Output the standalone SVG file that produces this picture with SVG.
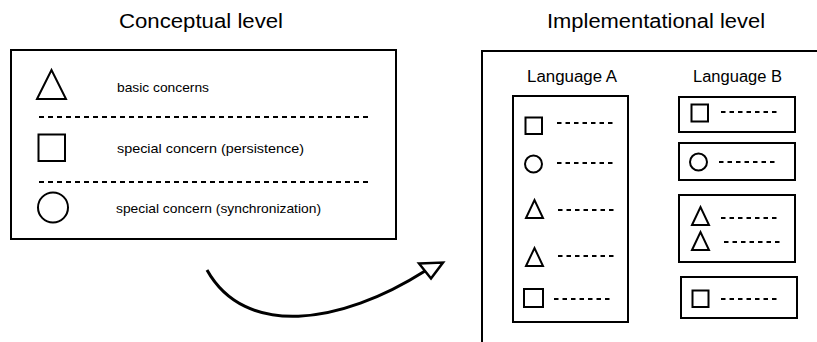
<svg xmlns="http://www.w3.org/2000/svg" width="817" height="342" viewBox="0 0 817 342">
  <style>
    .box { fill: #fff; stroke: #000; stroke-width: 2; }
    .shape { fill: none; stroke: #000; stroke-width: 2; }
    .sep { fill: none; stroke: #000; stroke-width: 2; stroke-dasharray: 5 4; }
    .dash { fill: none; stroke: #000; stroke-width: 2; stroke-dasharray: 4.5 4; }
    .title { font-family: "Liberation Sans", Arial, sans-serif; font-size: 20px; fill: #000; }
    .lang { font-family: "Liberation Sans", Arial, sans-serif; font-size: 16px; fill: #000; }
    .small { font-family: "Liberation Sans", Arial, sans-serif; font-size: 13px; fill: #000; }
    .flow { fill: none; stroke: #000; stroke-width: 3; }
  </style>
  <defs>
    <path id="tri-sm" d="M0,0 L8.5,-18 L17,0 Z"/>
  </defs>
  <rect width="817" height="342" fill="#fff"/>

  <!-- Conceptual side -->
  <g id="conceptual">
    <text class="title" x="119" y="27.5" textLength="164" lengthAdjust="spacingAndGlyphs">Conceptual level</text>
    <rect class="box" x="11" y="50" width="385" height="189"/>
    <polygon class="shape" points="37,99 51.5,70 66,99"/>
    <text class="small" x="117" y="92" textLength="92" lengthAdjust="spacingAndGlyphs">basic concerns</text>
    <line class="sep" x1="39" y1="117" x2="368" y2="117"/>
    <rect class="shape" x="38.5" y="134.5" width="26.5" height="26.5"/>
    <text class="small" x="117" y="153" textLength="187" lengthAdjust="spacingAndGlyphs">special concern (persistence)</text>
    <line class="sep" x1="39" y1="182" x2="368" y2="182"/>
    <circle class="shape" cx="53" cy="207.5" r="15"/>
    <text class="small" x="116" y="213" textLength="205" lengthAdjust="spacingAndGlyphs">special concern (synchronization)</text>
  </g>

  <!-- Implementational side -->
  <g id="implementational">
    <text class="title" x="547" y="27.5" textLength="218" lengthAdjust="spacingAndGlyphs">Implementational level</text>
    <rect class="box" x="482" y="51" width="400" height="400"/>
  </g>

  <g id="language-a">
    <text class="lang" x="527" y="82" textLength="90" lengthAdjust="spacingAndGlyphs">Language A</text>
    <rect class="box" x="513" y="96" width="115" height="226"/>
    <rect class="shape" x="525.5" y="117.5" width="16.5" height="16.5"/>
    <line class="dash" x1="557" y1="123" x2="612.5" y2="123"/>
    <circle class="shape" cx="533.5" cy="164" r="8.5"/>
    <line class="dash" x1="557" y1="163" x2="612.5" y2="163"/>
    <use href="#tri-sm" class="shape" x="526" y="218"/>
    <line class="dash" x1="558" y1="210" x2="613.5" y2="210"/>
    <use href="#tri-sm" class="shape" x="526" y="266"/>
    <line class="dash" x1="558" y1="256" x2="613.5" y2="256"/>
    <rect class="shape" x="524" y="289" width="19" height="18"/>
    <line class="dash" x1="554" y1="299" x2="609.5" y2="299"/>
  </g>

  <g id="language-b">
    <text class="lang" x="693" y="82" textLength="89" lengthAdjust="spacingAndGlyphs">Language B</text>
  </g>

  <g id="b-persistence">
    <rect class="box" x="679" y="97" width="116" height="35"/>
    <rect class="shape" x="691.5" y="104.5" width="16.5" height="17"/>
    <line class="dash" x1="721" y1="112" x2="778.5" y2="112"/>
  </g>

  <g id="b-synchronization">
    <rect class="box" x="679" y="143" width="116" height="37"/>
    <circle class="shape" cx="698.5" cy="162" r="8.5"/>
    <line class="dash" x1="719" y1="162" x2="776.5" y2="162"/>
  </g>

  <g id="b-basic">
    <rect class="box" x="679" y="195" width="116" height="67"/>
    <use href="#tri-sm" class="shape" x="692" y="225"/>
    <line class="dash" x1="721" y1="218" x2="778.5" y2="218"/>
    <use href="#tri-sm" class="shape" x="692" y="250"/>
    <line class="dash" x1="724" y1="242" x2="781.5" y2="242"/>
  </g>

  <g id="b-persistence-2">
    <rect class="box" x="681" y="277" width="116" height="41"/>
    <rect class="shape" x="692.5" y="290.5" width="16" height="16.5"/>
    <line class="dash" x1="721" y1="299" x2="778.5" y2="299"/>
  </g>

  <!-- Mapping arrow -->
  <g id="connectors">
    <path class="flow" d="M207,270 C245,338 340,325 425,271"/>
    <polygon points="419,263.5 443,262.5 431,278.5" fill="#fff" stroke="#000" stroke-width="2.5" stroke-linejoin="miter"/>
  </g>
</svg>
